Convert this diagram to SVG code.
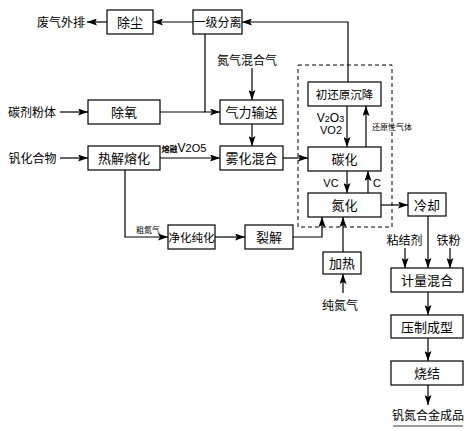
<svg xmlns="http://www.w3.org/2000/svg" width="467" height="431" viewBox="0 0 467 431">
<style>
.box{fill:#fff;stroke:#000;stroke-width:1.2}
.t{font-family:"Noto Sans CJK SC","Noto Sans",sans-serif;font-size:13px;fill:#000;text-anchor:middle}
.s{font-size:12px}
.xs{font-size:8px}
.l{font-family:"Liberation Sans",Arial,sans-serif;fill:#000;text-anchor:middle}
.c{fill:none;stroke:#000;stroke-width:1.2;marker-end:url(#ah)}
.n{fill:none;stroke:#000;stroke-width:1.2}
</style>
<defs>
<marker id="ah" markerUnits="userSpaceOnUse" markerWidth="10" markerHeight="7" refX="10" refY="3.5" orient="auto">
<path d="M0,0 L10,3.5 L0,7 L2,3.5 z" fill="#000"/>
</marker>
</defs>
<rect x="298" y="65" width="94" height="162" fill="none" stroke="#000" stroke-width="1" stroke-dasharray="4,3"/>
<g id="connectors">
<path class="c" d="M193,22 H153"/>
<path class="c" d="M107,22 H87"/>
<path class="c" d="M348,82 V22 H242"/>
<path class="c" d="M60,112 H88"/>
<path class="n" d="M160,112 H205"/>
<path class="c" d="M205,34 V112 H220"/>
<path class="c" d="M252,68 V100"/>
<path class="c" d="M252,124 V146"/>
<path class="c" d="M60,158 H88"/>
<path class="c" d="M160,158 H220"/>
<path class="c" d="M125,170 V237 H168"/>
<path class="c" d="M215,237 H245"/>
<path class="c" d="M293,237 H322 V217"/>
<path class="c" d="M343,252 V217"/>
<path class="c" d="M343,293 V274"/>
<path class="c" d="M283,158 H308"/>
<path class="c" d="M347,106 V147"/>
<path class="c" d="M366,147 V106"/>
<path class="c" d="M347,171 V193"/>
<path class="c" d="M368,193 V171"/>
<path class="c" d="M381,205 H408"/>
<path class="c" d="M428,216 V268"/>
<path class="c" d="M405,248 V268"/>
<path class="c" d="M450,248 V268"/>
<path class="c" d="M428,292 V315"/>
<path class="c" d="M428,338 V361"/>
<path class="c" d="M428,385 V405"/>
</g>
<g id="n-chuchen"><rect class="box" x="107" y="10" width="46" height="24"/><text class="t" x="130" y="27">除尘</text></g>
<g id="n-yiji"><rect class="box" x="193" y="10" width="49" height="24"/><text class="t s" x="217.5" y="27">一级分离</text></g>
<g id="n-chuyang"><rect class="box" x="88" y="100" width="72" height="24"/><text class="t" x="124" y="117">除氧</text></g>
<g id="n-qili"><rect class="box" x="220" y="100" width="63" height="24"/><text class="t" x="251.5" y="117">气力输送</text></g>
<g id="n-rejie"><rect class="box" x="88" y="146" width="72" height="24"/><text class="t" x="124" y="163">热解熔化</text></g>
<g id="n-wuhua"><rect class="box" x="220" y="146" width="63" height="24"/><text class="t" x="251.5" y="163">雾化混合</text></g>
<g id="n-chuhuanyuan"><rect class="box" x="308" y="82" width="73" height="24"/><text class="t" style="font-size:11.5px" x="344.5" y="98.5">初还原沉降</text></g>
<g id="n-tanhua"><rect class="box" x="308" y="147" width="73" height="24"/><text class="t" x="344.5" y="164">碳化</text></g>
<g id="n-danhua"><rect class="box" x="308" y="193" width="73" height="24"/><text class="t" x="344.5" y="210">氮化</text></g>
<g id="n-lengque"><rect class="box" x="408" y="193" width="38" height="23"/><text class="t" x="427" y="209.5">冷却</text></g>
<g id="n-jinghua"><rect class="box" x="168" y="225" width="47" height="24"/><text class="t" style="font-size:11.5px" x="191.5" y="241.5">净化纯化</text></g>
<g id="n-liejie"><rect class="box" x="245" y="225" width="48" height="24"/><text class="t" x="269" y="242">裂解</text></g>
<g id="n-jiare"><rect class="box" x="323" y="252" width="38" height="22"/><text class="t" x="342" y="268">加热</text></g>
<g id="n-jiliang"><rect class="box" x="391" y="268" width="72" height="24"/><text class="t" x="427" y="285">计量混合</text></g>
<g id="n-yazhi"><rect class="box" x="391" y="315" width="72" height="23"/><text class="t" x="427" y="331.5">压制成型</text></g>
<g id="n-shaojie"><rect class="box" x="391" y="361" width="72" height="24"/><text class="t" x="427" y="378">烧结</text></g>
<g id="labels">
<text class="t" x="184" y="152" style="text-anchor:middle"><tspan style="font-size:8px;font-weight:bold">熔融</tspan><tspan style="font-family:'Liberation Sans',Arial,sans-serif;font-size:12px">V</tspan><tspan style="font-family:'Liberation Sans',Arial,sans-serif;font-size:11px">2O5</tspan></text>
<text class="t s" x="61" y="26.5">废气外排</text>
<text class="t s" x="32" y="116.5">碳剂粉体</text>
<text class="t s" x="32.5" y="162.5">钒化合物</text>
<text class="t s" x="247" y="64.5">氮气混合气</text>
<text class="t xs" x="148" y="233">粗氮气</text>
<text class="l" x="330.5" y="122" style="font-size:12px">V<tspan style="font-size:9px">2</tspan>O<tspan style="font-size:9px">3</tspan></text>
<text class="l" x="331" y="134" style="font-size:11px">VO2</text>
<text class="t xs" x="392" y="130">还原性气体</text>
<text class="l" x="331" y="187" style="font-size:11px">VC</text>
<text class="l" x="377" y="187" style="font-size:11px">C</text>
<text class="t s" x="404.5" y="244.5">粘结剂</text>
<text class="t s" x="448.5" y="244.5">铁粉</text>
<text class="t s" x="340" y="309.5">纯氮气</text>
<text class="t s" x="428" y="419.5">钒氮合金成品</text>
<line x1="393" y1="426" x2="463" y2="426" stroke="#000" stroke-width="0.8"/>
</g>
</svg>
